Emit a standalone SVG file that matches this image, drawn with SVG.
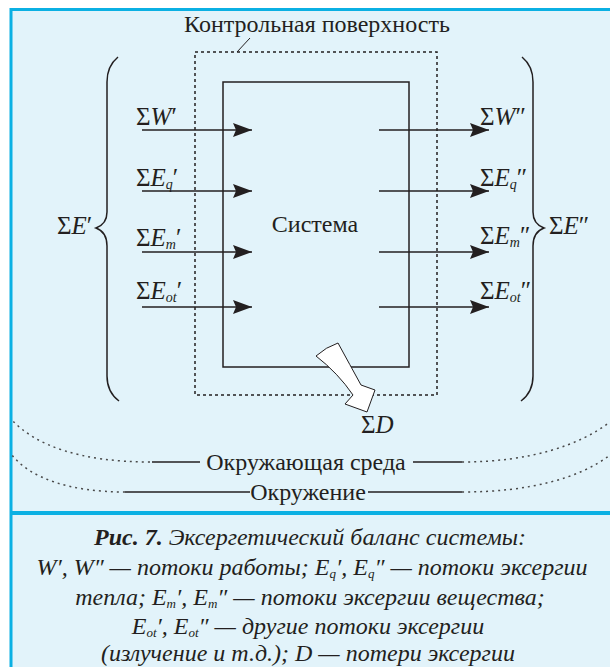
<svg xmlns="http://www.w3.org/2000/svg" width="610" height="667" viewBox="0 0 610 667">
<defs>
<marker id="ah" markerWidth="20" markerHeight="14" refX="19" refY="7" orient="auto" markerUnits="userSpaceOnUse">
<path d="M0,0 L19,7 L0,14 L3,7 Z" fill="#231f20"/>
</marker>
</defs>
<rect x="0" y="0" width="610" height="667" fill="#ffffff"/>
<rect x="11" y="10" width="600" height="660" fill="#e2f3fa"/>
<g id="frame" stroke="#0bb0e3">
<line x1="10" y1="9.5" x2="610" y2="9.5" stroke-width="3"/>
<line x1="11" y1="8" x2="11" y2="667" stroke-width="3"/>
<line x1="10" y1="513" x2="610" y2="513" stroke-width="4"/>
</g>
<g id="control-surface">
<rect x="195" y="52" width="242" height="343" fill="none" stroke="#231f20" stroke-width="1.5" stroke-dasharray="3 3"/>
<line x1="250" y1="38" x2="237" y2="52" stroke="#231f20" stroke-width="1"/>
<text font-family="Liberation Serif" fill="#231f20" x="317" y="32" font-size="24" text-anchor="middle">Контрольная поверхность</text>
</g>
<g id="system">
<rect x="223" y="82" width="186" height="285" fill="none" stroke="#231f20" stroke-width="1.5"/>
<text font-family="Liberation Serif" fill="#231f20" x="315" y="232" font-size="24" text-anchor="middle">Система</text>
</g>
<g id="connectors" stroke="#231f20" stroke-width="1.5" marker-end="url(#ah)">
<line x1="142" y1="130" x2="252" y2="130"/>
<line x1="142" y1="191" x2="252" y2="191"/>
<line x1="142" y1="252" x2="252" y2="252"/>
<line x1="142" y1="307" x2="252" y2="307"/>
<line x1="379" y1="130" x2="489" y2="130"/>
<line x1="379" y1="191" x2="489" y2="191"/>
<line x1="379" y1="252" x2="489" y2="252"/>
<line x1="379" y1="307" x2="489" y2="307"/>
</g>
<g id="inputs">
<text font-family="Liberation Serif" fill="#231f20" font-size="25" x="136" y="125">Σ<tspan font-style="italic">W</tspan>′</text>
<text font-family="Liberation Serif" fill="#231f20" font-size="25" x="136" y="186">Σ<tspan font-style="italic">E</tspan><tspan font-style="italic" font-size="14" dy="3">q</tspan><tspan dy="-3">′</tspan></text>
<text font-family="Liberation Serif" fill="#231f20" font-size="25" x="136" y="246">Σ<tspan font-style="italic">E</tspan><tspan font-style="italic" font-size="14" dy="3">m</tspan><tspan dy="-3">′</tspan></text>
<text font-family="Liberation Serif" fill="#231f20" font-size="25" x="136" y="299">Σ<tspan font-style="italic">E</tspan><tspan font-style="italic" font-size="14" dy="3">ot</tspan><tspan dy="-3">′</tspan></text>
</g>
<g id="outputs">
<text font-family="Liberation Serif" fill="#231f20" font-size="25" x="480" y="125">Σ<tspan font-style="italic">W</tspan>″</text>
<text font-family="Liberation Serif" fill="#231f20" font-size="25" x="480" y="186">Σ<tspan font-style="italic">E</tspan><tspan font-style="italic" font-size="14" dy="3">q</tspan><tspan dy="-3">″</tspan></text>
<text font-family="Liberation Serif" fill="#231f20" font-size="25" x="480" y="244">Σ<tspan font-style="italic">E</tspan><tspan font-style="italic" font-size="14" dy="3">m</tspan><tspan dy="-3">″</tspan></text>
<text font-family="Liberation Serif" fill="#231f20" font-size="25" x="480" y="299">Σ<tspan font-style="italic">E</tspan><tspan font-style="italic" font-size="14" dy="3">ot</tspan><tspan dy="-3">″</tspan></text>
</g>
<g id="brace-left">
<path fill="none" stroke="#231f20" stroke-width="1.5" d="M118,57 Q107,66 107,82 L107,212 Q107,224 96,228 Q107,232 107,246 L107,376 Q107,392 119,401"/>
<text font-family="Liberation Serif" fill="#231f20" x="57" y="234" font-size="25">Σ<tspan font-style="italic">E</tspan>′</text>
</g>
<g id="brace-right">
<path fill="none" stroke="#231f20" stroke-width="1.5" d="M522,57 Q533,66 533,82 L533,212 Q533,224 544,228 Q533,232 533,246 L533,376 Q533,392 521,401"/>
<text font-family="Liberation Serif" fill="#231f20" x="549" y="234" font-size="25">Σ<tspan font-style="italic">E</tspan>″</text>
</g>
<g id="loss">
<path d="M316,356 Q326,347 338,343 Q350,365 361,385 L375,390 L367,412 L345,404 L353,395 Q338,373 316,356 Z" fill="#ffffff" stroke="#231f20" stroke-width="1"/>
<text font-family="Liberation Serif" fill="#231f20" x="361" y="433" font-size="25">Σ<tspan font-style="italic">D</tspan></text>
</g>
<g id="environment">
<g fill="none" stroke="#4a4a4a" stroke-width="1.5" stroke-dasharray="2 4">
<path d="M150,462 C80,462 35,445 12,420"/>
<path d="M462,462 C530,462 580,445 610,422"/>
</g>
<line x1="152" y1="462" x2="200" y2="462" stroke="#231f20" stroke-width="1.5"/>
<line x1="413" y1="462" x2="462" y2="462" stroke="#231f20" stroke-width="1.5"/>
<text font-family="Liberation Serif" fill="#231f20" x="306" y="470" font-size="24" text-anchor="middle">Окружающая среда</text>
</g>
<g id="surroundings">
<g fill="none" stroke="#4a4a4a" stroke-width="1.5" stroke-dasharray="2 4">
<path d="M125,492 C70,492 30,478 12,455"/>
<path d="M462,492 C530,492 580,478 610,455"/>
</g>
<line x1="125" y1="492" x2="250" y2="492" stroke="#231f20" stroke-width="1.5"/>
<line x1="368" y1="492" x2="462" y2="492" stroke="#231f20" stroke-width="1.5"/>
<text font-family="Liberation Serif" fill="#231f20" x="308" y="500" font-size="24" text-anchor="middle">Окружение</text>
</g>
<g id="caption">
<text font-family="Liberation Serif" fill="#231f20" font-style="italic" font-size="24" x="310" y="545" text-anchor="middle"><tspan font-weight="bold">Рис. 7.</tspan> Эксергетический баланс системы:</text>
<text font-family="Liberation Serif" fill="#231f20" font-style="italic" font-size="24" x="312" y="575" text-anchor="middle">W′, W″ — потоки работы; E<tspan font-size="13" dy="3">q</tspan><tspan dy="-3">′</tspan>, E<tspan font-size="13" dy="3">q</tspan><tspan dy="-3">″</tspan> — потоки эксергии</text>
<text font-family="Liberation Serif" fill="#231f20" font-style="italic" font-size="24" x="310" y="605" text-anchor="middle">тепла; E<tspan font-size="13" dy="3">m</tspan><tspan dy="-3">′</tspan>, E<tspan font-size="13" dy="3">m</tspan><tspan dy="-3">″</tspan> — потоки эксергии вещества;</text>
<text font-family="Liberation Serif" fill="#231f20" font-style="italic" font-size="24" x="308" y="634" text-anchor="middle">E<tspan font-size="13" dy="3">ot</tspan><tspan dy="-3">′</tspan>, E<tspan font-size="13" dy="3">ot</tspan><tspan dy="-3">″</tspan> — другие потоки эксергии</text>
<text font-family="Liberation Serif" fill="#231f20" font-style="italic" font-size="24" x="308" y="661" text-anchor="middle">(излучение и т.д.); D — потери эксергии</text>
</g>
</svg>
